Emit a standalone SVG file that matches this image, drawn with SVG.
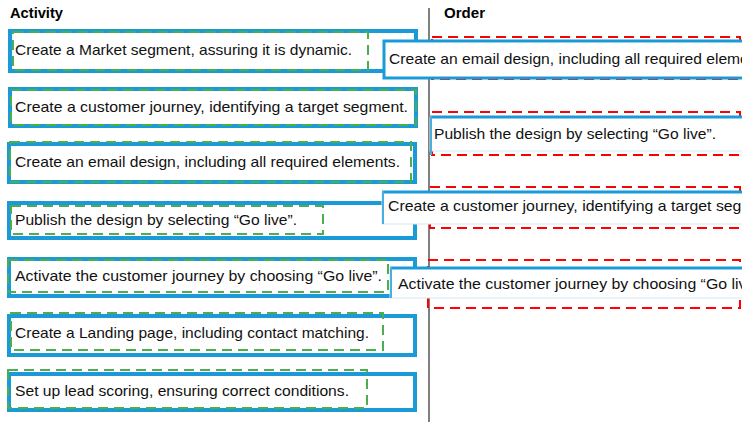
<svg xmlns="http://www.w3.org/2000/svg" width="742" height="422" viewBox="0 0 742 422">
<style>
text{font-family:"Liberation Sans",Arial,sans-serif;font-size:15px;fill:#111}
.h{font-weight:bold;font-size:14px;fill:#000}
.blue{fill:#fff;stroke:#1a9bd7;stroke-width:4}
.green{fill:none;stroke:#4cae4c;stroke-width:2;stroke-dasharray:10 6}
.red{fill:none;stroke:#ff0000;stroke-width:2;stroke-dasharray:10 6}
.ob{fill:#fff;stroke:#cfe9f6;stroke-width:1}
.ot{stroke:#1a9bd7;stroke-width:3}
.ol{stroke:#4aaee0;stroke-width:2}
</style>
<rect width="742" height="422" fill="#fff"/>
<text class="h" x="10" y="18" textLength="53" lengthAdjust="spacingAndGlyphs">Activity</text>
<text class="h" x="444" y="18" textLength="41" lengthAdjust="spacingAndGlyphs">Order</text>
<line x1="429" y1="8" x2="429" y2="422" stroke="#555" stroke-width="1.5"/>

<g id="act1">
<rect class="blue" x="10" y="31" width="406" height="40"/>
<rect class="green" x="13" y="32" width="355" height="38"/>
<text x="15" y="55" textLength="337" lengthAdjust="spacingAndGlyphs">Create a Market segment, assuring it is dynamic.</text>
</g>
<g id="act2">
<rect class="blue" x="10" y="89" width="406" height="37"/>
<rect class="green" x="11" y="90" width="405" height="35"/>
<text x="15" y="112" textLength="393" lengthAdjust="spacingAndGlyphs">Create a customer journey, identifying a target segment.</text>
</g>
<g id="act3">
<rect class="blue" x="9" y="144" width="406" height="38"/>
<rect class="green" x="10" y="142" width="401" height="40"/>
<text x="15" y="167" textLength="385" lengthAdjust="spacingAndGlyphs">Create an email design, including all required elements.</text>
</g>
<g id="act4">
<rect class="blue" x="9" y="203" width="406" height="35"/>
<rect class="green" x="11" y="206" width="312" height="28"/>
<text x="15" y="225" textLength="282" lengthAdjust="spacingAndGlyphs">Publish the design by selecting “Go live”.</text>
</g>
<g id="act5">
<rect class="blue" x="9" y="259" width="406" height="37"/>
<rect class="green" x="8" y="260" width="380" height="32"/>
<text x="15" y="281" textLength="367" lengthAdjust="spacingAndGlyphs">Activate the customer journey by choosing “Go live”.</text>
</g>
<g id="act6">
<rect class="blue" x="9" y="316" width="406" height="39"/>
<rect class="green" x="11" y="313" width="372" height="37"/>
<text x="15" y="338" textLength="354" lengthAdjust="spacingAndGlyphs">Create a Landing page, including contact matching.</text>
</g>
<g id="act7">
<rect class="blue" x="9" y="374" width="406" height="36"/>
<rect class="green" x="8" y="370" width="359" height="38"/>
<text x="15" y="396" textLength="334" lengthAdjust="spacingAndGlyphs">Set up lead scoring, ensuring correct conditions.</text>
</g>

<g id="slot1"><rect class="red" x="432" y="37" width="308" height="42"/></g>
<g id="slot2"><rect class="red" x="432" y="112" width="308" height="43"/></g>
<g id="slot3"><rect class="red" x="430" y="187" width="310" height="41"/></g>
<g id="slot4"><rect class="red" x="428" y="260" width="312" height="48"/></g>

<g id="ord1">
<rect x="384" y="41" width="380" height="37" fill="#fff" stroke="#1a9bd7" stroke-width="3"/>
<text x="389" y="64" textLength="385" lengthAdjust="spacingAndGlyphs">Create an email design, including all required elements.</text>
</g>
<g id="ord2">
<rect class="ob" x="430" y="117" width="330" height="34"/>
<line class="ot" x1="430" y1="117" x2="742" y2="117"/>
<line class="ol" x1="431" y1="116" x2="431" y2="155"/>
<text x="434" y="139" textLength="282" lengthAdjust="spacingAndGlyphs">Publish the design by selecting “Go live”.</text>
</g>
<g id="ord3">
<rect class="ob" x="382" y="192" width="380" height="32"/>
<line class="ot" x1="382" y1="192" x2="742" y2="192"/>
<line class="ol" x1="383" y1="191" x2="383" y2="224"/>
<text x="388" y="211" textLength="393" lengthAdjust="spacingAndGlyphs">Create a customer journey, identifying a target segment.</text>
</g>
<g id="ord4">
<rect class="ob" x="390" y="268" width="380" height="30"/>
<line class="ot" x1="390" y1="268" x2="742" y2="268"/>
<line class="ol" x1="391" y1="267" x2="391" y2="298"/>
<text x="398" y="289" textLength="367" lengthAdjust="spacingAndGlyphs">Activate the customer journey by choosing “Go live”.</text>
</g>
<g id="connectors"></g>
</svg>
